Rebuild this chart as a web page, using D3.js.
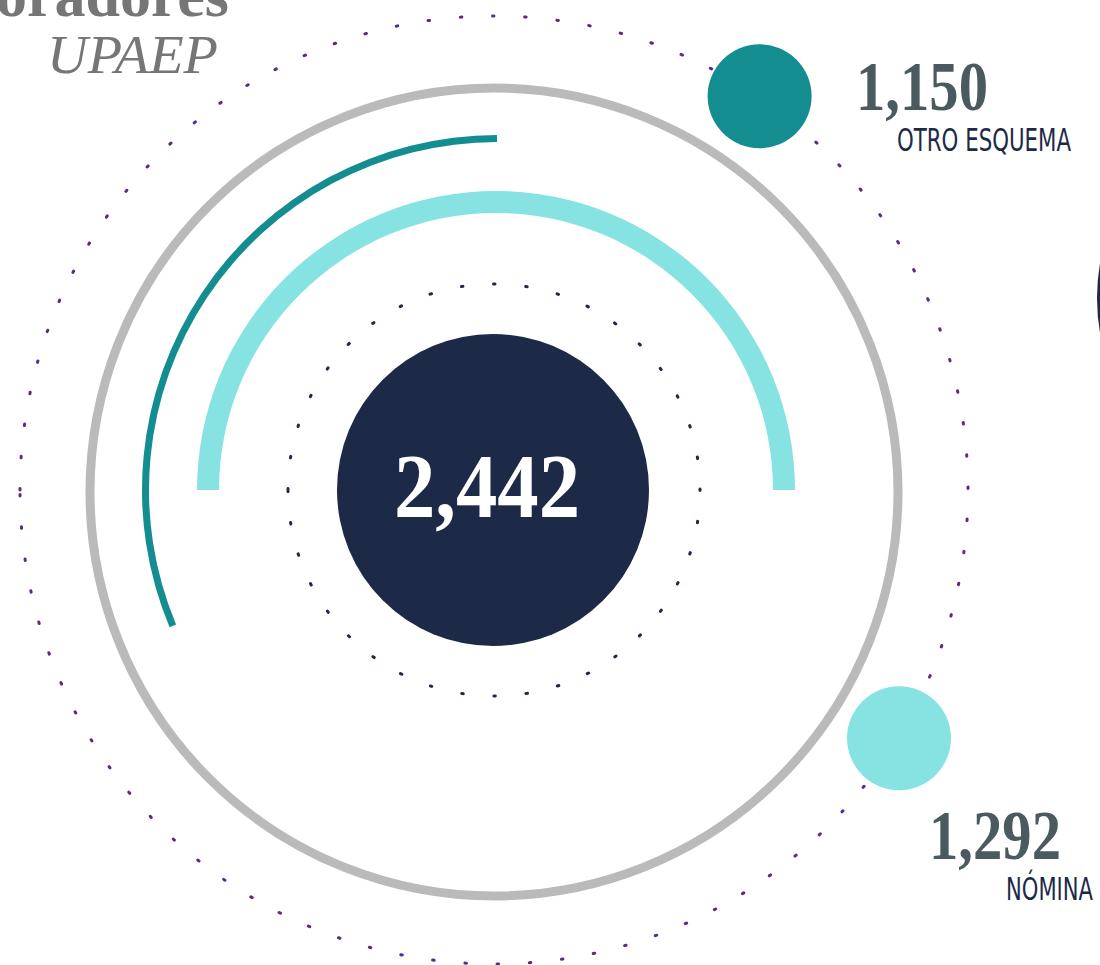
<!DOCTYPE html>
<meta charset="utf-8">
<html>
<head>
<script src="https://d3js.org/d3.v7.min.js" charset="utf-8"></script>
<style>
body { margin: 0; background: #fff; }
.num { font-family: "Liberation Serif", "DejaVu Serif", serif; font-weight: bold; }
.cat { font-family: "Liberation Sans Narrow", "DejaVu Sans Condensed", "Roboto", sans-serif; }
</style>
</head>
<body>
<svg width="1100" height="965"></svg>
<script>
// data
var titleLines = ["Colaboradores", "UPAEP"];
var categories = ["Otro esquema", "Nómina"];
var values = [1150, 1292];
var total = 2442;

var colors = { otro: "#138d90", nomina: "#86e3e1", navy: "#1c2a47", gray: "#bababa", num: "#4a5b60", purple: "#5b2a86", title: "#767676" };

var svg = d3.select("svg");
var fmt = d3.format(",");
var cx = 494, cy = 490;

// sweep of each arc
var sweep = d3.scaleLinear().domain([912, 1292]).range([0, Math.PI]);

// half-seen circle on the right edge
svg.append("circle").attr("cx", 1302).attr("cy", 298).attr("r", 205).attr("fill", colors.navy);

// title
svg.append("text")
    .attr("x", 229).attr("y", 16)
    .attr("text-anchor", "end")
    .attr("fill", colors.title)
    .style("font", "bold 62px 'Liberation Serif', serif")
    .text(titleLines[0]);
svg.append("text")
    .attr("x", 218).attr("y", 73)
    .attr("text-anchor", "end")
    .attr("fill", colors.title)
    .attr("textLength", 171).attr("lengthAdjust", "spacingAndGlyphs")
    .style("font", "italic 54px 'Liberation Serif', serif")
    .text(titleLines[1]);

var g = svg.append("g").attr("transform", "translate(" + cx + "," + cy + ")");

// outer dotted ring
g.append("circle").attr("r", 474)
    .attr("transform", "rotate(180)")
    .attr("fill", "none").attr("stroke", colors.purple)
    .attr("stroke-width", 3).attr("stroke-linecap", "round")
    .attr("stroke-dasharray", "1.5 30.8");

// gray ring
g.append("circle").attr("r", 404).attr("cy", 2)
    .attr("fill", "none").attr("stroke", colors.gray).attr("stroke-width", 9);

// arcs
var arc = d3.arc();
g.append("path")
    .attr("fill", colors.otro)
    .attr("d", arc({ innerRadius: 348, outerRadius: 355, startAngle: -sweep(values[0]), endAngle: 0 }))
    .attr("transform", "translate(3,0)");
g.append("path")
    .attr("fill", colors.nomina)
    .attr("d", arc({ innerRadius: 277, outerRadius: 299, startAngle: -Math.PI / 2, endAngle: -Math.PI / 2 + sweep(values[1]) }))
    .attr("transform", "translate(2,0)");

// inner dotted ring
g.append("circle").attr("r", 206)
    .attr("transform", "rotate(180)")
    .attr("fill", "none").attr("stroke", colors.navy)
    .attr("stroke-width", 3).attr("stroke-linecap", "round")
    .attr("stroke-dasharray", "1.5 30.8");

// center
g.append("circle").attr("r", 156).attr("cx", -1).attr("fill", colors.navy);
g.append("text")
    .attr("class", "num")
    .attr("x", -7).attr("y", 27)
    .attr("text-anchor", "middle")
    .attr("fill", "#fff")
    .attr("font-size", 90)
    .attr("textLength", 186).attr("lengthAdjust", "spacingAndGlyphs")
    .text(fmt(total));

// dots on outer ring + labels
var items = [
  { i: 0, angle: 34, color: colors.otro, nx: 856, ny: 110, cxl: 897, cyl: 151, cw: 174 },
  { i: 1, angle: 121.5, color: colors.nomina, nx: 929, ny: 859, cxl: 1006, cyl: 900, cw: 87 }
];
items.forEach(function(d) {
  var a = d.angle * Math.PI / 180;
  svg.append("circle")
      .attr("cx", cx + 475 * Math.sin(a))
      .attr("cy", cy - 475 * Math.cos(a))
      .attr("r", 52)
      .attr("fill", d.color);
  svg.append("text")
      .attr("class", "num")
      .attr("x", d.nx).attr("y", d.ny)
      .attr("fill", colors.num)
      .attr("font-size", 70)
      .attr("textLength", 132).attr("lengthAdjust", "spacingAndGlyphs")
      .text(fmt(values[d.i]));
  svg.append("text")
      .attr("class", "cat")
      .attr("x", d.cxl).attr("y", d.cyl)
      .attr("fill", colors.navy)
      .attr("font-size", 32)
      .attr("textLength", d.cw).attr("lengthAdjust", "spacingAndGlyphs")
      .text(categories[d.i].toUpperCase());
});
</script>
</body>
</html>
